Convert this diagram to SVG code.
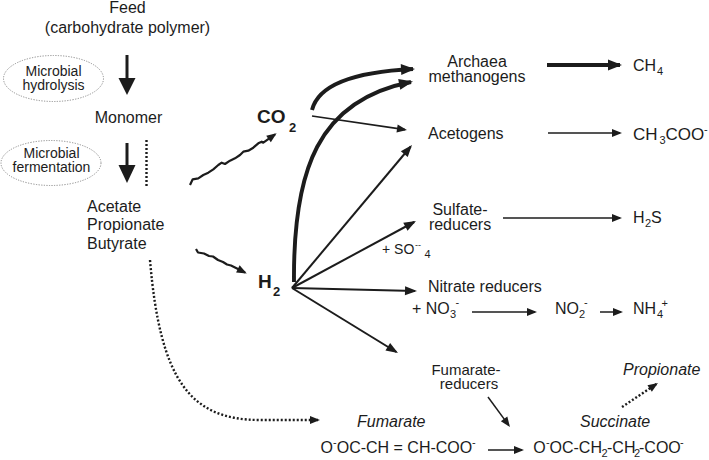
<svg xmlns="http://www.w3.org/2000/svg" width="709" height="460" viewBox="0 0 709 460">
<defs>
<style>
.t{font-family:"Liberation Sans",Arial,Helvetica,sans-serif;font-size:16px;fill:#1c1c1c}
.s14{font-size:14px}
.s15{font-size:15px}
.s17{font-size:17px}
.i{font-style:italic}
.b{font-weight:bold;font-size:19px}
.sb{font-size:11px}
.sbb{font-size:13px;font-weight:bold}
.ln{stroke:#1c1c1c;fill:none;stroke-linejoin:round}
.w15{stroke-width:1.5}
.w17{stroke-width:1.7}
.w2{stroke-width:2}
.w22{stroke-width:2.2}
.w3{stroke-width:3}
.w4{stroke-width:3.9}
.dot{stroke-width:2.4;stroke-dasharray:2 2}
.ell{fill:#fff;stroke:#8a8a8a;stroke-width:1;stroke-dasharray:1.2 1.4}
.hd{fill:#1c1c1c;stroke:none}
</style>
<marker id="hs" markerUnits="userSpaceOnUse" markerWidth="10" markerHeight="8" refX="8" refY="4" orient="auto" overflow="visible"><path class="hd" d="M0,0 L10,4 L0,8 Z"/></marker>
<marker id="hm" markerUnits="userSpaceOnUse" markerWidth="12" markerHeight="10" refX="10" refY="5" orient="auto" overflow="visible"><path class="hd" d="M0,0.5 L12,5 L0,9.5 Z"/></marker>
<marker id="hl" markerUnits="userSpaceOnUse" markerWidth="14" markerHeight="11" refX="12" refY="5.5" orient="auto" overflow="visible"><path class="hd" d="M0,0 L14,5.5 L0,11 Z"/></marker>
</defs>
<rect width="709" height="460" fill="#fff"/>

<g id="connectors">
  <line class="ln w3" x1="127" y1="55" x2="127" y2="80"/>
  <polygon class="hd" points="118.5,78 135.5,78 127,95"/>
  <line class="ln w3" x1="127" y1="143" x2="127" y2="167"/>
  <polygon class="hd" points="118.5,165 135.5,165 127,183"/>
  <line class="ln dot" x1="146.5" y1="140" x2="146.5" y2="186"/>
  <polyline class="ln w22" marker-end="url(#hs)" points="190,185 192.7,179.3 198.3,178.3 203.3,175 208.3,172.7 213.3,169.3 218.3,165 221.7,162.7 225,164 230,160.7 235,158.3 240,155 243.3,151.7 248.3,150.7 253.3,147.7 258.3,143.3 261.7,141.7 263.3,142.7 275,134.3"/>
  <polyline class="ln w22" marker-end="url(#hs)" points="196,249 198,252.5 204,253.5 209,256 213,256.5 218,260 223,262 227,264.5 231,265.5 236,268 245,272.5"/>
  <path class="ln dot" marker-end="url(#hs)" d="M150,260 C160,380 190,420 260,420 L318,420"/>
  <path class="ln w4" marker-end="url(#hl)" d="M312,110 C318,86 352,72 413,69"/>
  <path class="ln w4" marker-end="url(#hl)" d="M294,282 C293,170 318,100 411,82"/>
  <line class="ln w17" marker-end="url(#hs)" x1="312" y1="116" x2="405" y2="129.7"/>
  <line class="ln w2" marker-end="url(#hm)" x1="292" y1="288" x2="410.7" y2="146.5"/>
  <line class="ln w2" marker-end="url(#hm)" x1="292" y1="288" x2="414.2" y2="222"/>
  <line class="ln w2" marker-end="url(#hm)" x1="292" y1="288" x2="415" y2="291"/>
  <line class="ln w2" marker-end="url(#hm)" x1="292" y1="288" x2="396.3" y2="352"/>
  <line class="ln w4" marker-end="url(#hl)" x1="547" y1="65" x2="620" y2="65"/>
  <line class="ln w15" marker-end="url(#hs)" x1="548" y1="133" x2="620" y2="133"/>
  <line class="ln w15" marker-end="url(#hs)" x1="503" y1="218" x2="620" y2="218"/>
  <line class="ln w15" marker-end="url(#hs)" x1="472" y1="312" x2="535" y2="312"/>
  <line class="ln w15" marker-end="url(#hs)" x1="600" y1="312" x2="621" y2="312"/>
  <line class="ln w15" marker-end="url(#hs)" x1="488" y1="397" x2="508.8" y2="425.4"/>
  <line class="ln w15" marker-end="url(#hs)" x1="488" y1="450" x2="522" y2="450"/>
  <line class="ln dot" marker-end="url(#hs)" x1="622" y1="407" x2="656.3" y2="384.1"/>
</g>

<g id="feed">
  <text class="t" x="127.5" y="13" text-anchor="middle">Feed</text>
  <text class="t" x="127.5" y="32.5" text-anchor="middle">(carbohydrate polymer)</text>
</g>
<g id="hydrolysis">
  <ellipse class="ell" cx="53.5" cy="78.5" rx="50" ry="23"/>
  <text class="t s14" x="53.5" y="75.5" text-anchor="middle">Microbial</text>
  <text class="t s14" x="53.5" y="89.5" text-anchor="middle">hydrolysis</text>
</g>
<g id="monomer">
  <text class="t" x="128.5" y="123" text-anchor="middle">Monomer</text>
</g>
<g id="fermentation">
  <ellipse class="ell" cx="51" cy="163" rx="50" ry="22.5"/>
  <text class="t s14" x="51.5" y="157.5" text-anchor="middle">Microbial</text>
  <text class="t s14" x="51.5" y="171.5" text-anchor="middle">fermentation</text>
</g>
<g id="vfa">
  <text class="t" x="87" y="211.5">Acetate</text>
  <text class="t" x="87" y="230">Propionate</text>
  <text class="t" x="87" y="248.5">Butyrate</text>
</g>
<g id="co2">
  <text class="t b" x="257" y="123">CO<tspan class="sbb" x="289" y="131.5">2</tspan></text>
</g>
<g id="h2">
  <text class="t b" x="258" y="288">H<tspan class="sbb" x="273" y="296">2</tspan></text>
</g>
<g id="methanogens">
  <text class="t" x="477" y="66.5" text-anchor="middle">Archaea</text>
  <text class="t" x="477" y="81.5" text-anchor="middle">methanogens</text>
</g>
<g id="ch4">
  <text class="t" x="633" y="71">CH<tspan class="sb" x="657" y="75">4</tspan></text>
</g>
<g id="acetogens">
  <text class="t" x="428" y="139">Acetogens</text>
</g>
<g id="acetate-out">
  <text class="t s17" x="633" y="139.5">CH<tspan class="sb" x="659.5" y="143.5">3</tspan><tspan x="665.5" y="139.5">COO</tspan><tspan class="sb" x="704" y="133">-</tspan></text>
</g>
<g id="sulfate">
  <text class="t" x="460" y="214.5" text-anchor="middle">Sulfate-</text>
  <text class="t" x="460" y="229.5" text-anchor="middle">reducers</text>
  <text class="t s14" x="382" y="254">+ SO<tspan style="font-size:9px" x="415" y="248">--</tspan><tspan class="sb" x="424.5" y="258">4</tspan></text>
</g>
<g id="h2s">
  <text class="t" x="633" y="223">H<tspan class="sb" x="645" y="227">2</tspan><tspan x="651" y="223">S</tspan></text>
</g>
<g id="nitrate">
  <text class="t" x="428" y="292">Nitrate reducers</text>
  <text class="t" x="412" y="314">+ NO<tspan class="sb" x="450" y="318">3</tspan><tspan class="sb" x="455.5" y="306">-</tspan></text>
</g>
<g id="no2">
  <text class="t" x="555" y="314">NO<tspan class="sb" x="579" y="318">2</tspan><tspan class="sb" x="584" y="306">-</tspan></text>
</g>
<g id="nh4">
  <text class="t" x="633" y="314">NH<tspan class="sb" x="657" y="318">4</tspan><tspan class="sb" x="661.5" y="307">+</tspan></text>
</g>
<g id="fumarate-reducers">
  <text class="t s15" x="466" y="374.5" text-anchor="middle">Fumarate-</text>
  <text class="t s15" x="469" y="389" text-anchor="middle">reducers</text>
</g>
<g id="fumarate">
  <text class="t i" x="357" y="427">Fumarate</text>
  <text class="t" x="320.5" y="453">O<tspan class="sb" x="333" y="446">-</tspan><tspan x="336.7" y="453">OC-CH = CH-COO</tspan><tspan class="sb" x="472" y="446">-</tspan></text>
</g>
<g id="succinate">
  <text class="t i" x="580" y="427">Succinate</text>
  <text class="t" x="533.3" y="453">O<tspan class="sb" x="546" y="446">-</tspan><tspan x="549.5" y="453">OC-CH</tspan><tspan class="sb" x="601.5" y="457">2</tspan><tspan x="607" y="453">-CH</tspan><tspan class="sb" x="634" y="457">2</tspan><tspan x="639" y="453">-COO</tspan><tspan class="sb" x="680" y="446">-</tspan></text>
</g>
<g id="propionate">
  <text class="t i" x="623" y="375">Propionate</text>
</g>
</svg>
